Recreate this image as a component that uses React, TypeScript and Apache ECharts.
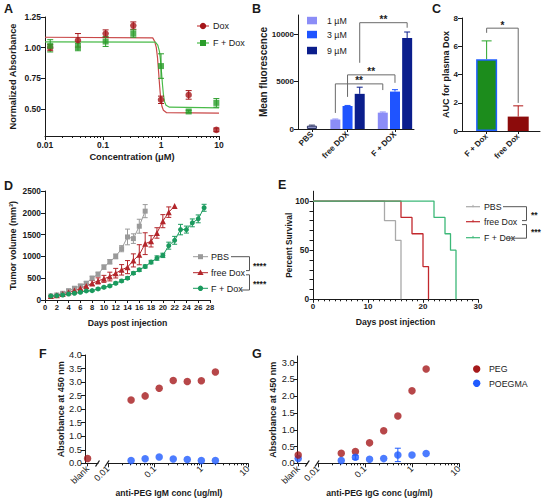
import React, { useEffect, useRef } from 'react';
import * as echarts from 'echarts';

// ===== Panel A: viability vs concentration =====
const concA = [0.0123, 0.037, 0.111, 0.333, 1, 3, 9];
const doxA = [1.0, 1.06, 1.115, 1.18, 0.575, 0.615, 0.33];
const doxAErr = [0.025, 0.055, 0.03, 0.03, 0.03, 0.035, 0.015];
const fDoxA = [1.015, 1.005, 1.05, 1.115, 0.85, 0.48, 0.55];
const fDoxAErr = [0.05, 0.03, 0.04, 0.03, 0.1, 0.01, 0.035];
const doxFitConc = [0.01, 0.72, 0.78, 0.83, 0.87, 0.91, 0.95, 0.99, 1.04, 1.1, 1.25, 10];
const doxFitVal = [1.085, 1.08, 1.05, 1.0, 0.92, 0.8, 0.68, 0.58, 0.52, 0.49, 0.47, 0.467];
const fDoxFitConc = [0.01, 0.8, 0.88, 0.94, 0.98, 1.02, 1.06, 1.1, 1.15, 1.22, 1.4, 10];
const fDoxFitVal = [1.047, 1.045, 1.02, 0.97, 0.9, 0.8, 0.7, 0.62, 0.56, 0.53, 0.515, 0.51];
const tickAX = [0.01, 0.1, 1, 10];
const tickAXLabels = ['0.01', '0.1', '1', '10'];
const tickAY = [0.5, 0.75, 1.0, 1.25];
const logMinorTicks = [0.02, 0.03, 0.04, 0.05, 0.06, 0.07, 0.08, 0.09, 0.2, 0.3, 0.4, 0.5, 0.6, 0.7, 0.8, 0.9, 2, 3, 4, 5, 6, 7, 8, 9];

// ===== Panel B: uptake =====
const groupsB = ['PBS', 'free DOX', 'F + DOX'];
const dosesB = ['1 µM', '3 µM', '9 µM'];
const pbsB = 350;
const pbsBErr = 60;
const freeDoxB = [1000, 2420, 3700];
const freeDoxBErr = [50, 60, 700];
const fDoxB = [1720, 3940, 9580];
const fDoxBErr = [70, 200, 630];
const sigBFromGroup = [1, 1, 1];
const sigBToGroup = [2, 2, 2];
const sigBDose = [0, 1, 2];
const sigBTop = [4750, 5700, 11190];
const sigBLegL = [1690, 3380, 6970];
const sigBLegR = [4100, 4860, 10660];
const sigBText = ['**', '**', '**'];
const tickBY = [0, 5000, 10000];

// ===== Panel C: AUC =====
const groupsC = ['F + Dox', 'free Dox'];
const aucC = [5.08, 1.02];
const aucCErr = [1.3, 0.76];
const sigCTop = [7.28];
const sigCLegL = [6.95];
const sigCLegR = [1.99];
const sigCText = ['*'];

// ===== Panel D: tumour growth =====
const daysPBS = [1, 2, 3, 4, 5, 6, 7, 8, 9, 10, 11, 12, 13, 14, 15, 16, 17];
const volPBS = [92, 115, 154, 215, 270, 323, 385, 500, 592, 754, 877, 1000, 1177, 1446, 1408, 1692, 2038];
const errPBS = [10, 15, 20, 25, 30, 35, 40, 45, 45, 50, 50, 55, 70, 180, 110, 160, 150];
const daysFree = [1, 2, 3, 4, 5, 6, 7, 8, 9, 10, 11, 12, 13, 14, 15, 16, 17, 18, 19, 20, 21, 22];
const volFree = [90, 110, 140, 180, 220, 270, 323, 385, 438, 485, 538, 615, 692, 754, 908, 1038, 1292, 1346, 1538, 1808, 2015, 2154];
const errFree = [10, 15, 15, 20, 30, 40, 50, 60, 70, 80, 100, 110, 120, 150, 150, 230, 250, 130, 120, 150, 120, 0];
const daysF = [1, 2, 3, 4, 5, 6, 7, 8, 9, 10, 11, 12, 13, 14, 15, 16, 17, 18, 19, 20, 21, 22, 23, 24, 25, 26, 27];
const volF = [92, 100, 115, 138, 154, 177, 208, 215, 254, 292, 323, 385, 438, 500, 615, 692, 769, 869, 962, 1023, 1246, 1369, 1615, 1615, 1769, 1861, 2115];
const errF = [10, 10, 10, 15, 15, 15, 15, 15, 20, 20, 20, 25, 25, 30, 30, 35, 35, 40, 50, 50, 80, 90, 120, 80, 90, 90, 80];

// ===== Panel E: survival =====
const survDaysPBS = [0, 13, 15, 16];
const survPBS = [100, 80, 60, 0];
const survDaysFree = [0, 16, 18, 20, 21];
const survFree = [100, 83.3, 66.7, 33.3, 0];
const survDaysF = [0, 22, 24, 25, 26];
const survF = [100, 83.3, 66.7, 50, 0];

// ===== Panels F & G: anti-PEG ELISA =====
const concFG = [0.03125, 0.0625, 0.125, 0.25, 0.5, 1, 2];
const tickFGX = [0.01, 0.1, 1, 10];
const tickFGXLabels = ['0.01', '0.1', '1', '10'];
const pegIgMBlank = 0.18;
const pegIgM = [2.34, 2.49, 2.77, 3.06, 3.02, 3.05, 3.37];
const poegmaIgM = [0.1, 0.17, 0.23, 0.16, 0.14, 0.1, 0.1];
const pegIgGBlank = 0.25;
const poegmaIgGBlank = 0.14;
const pegIgG = [0.3, 0.35, 0.61, 0.97, 1.41, 2.16, 2.81];
const poegmaIgG = [0.08, 0.18, 0.12, 0.14, 0.25, 0.25, 0.29];
const poegmaIgGErr = [0, 0.06, 0, 0, 0.2, 0, 0];
const tickGY = [0, 0.5, 1, 1.5, 2, 2.5, 3];

// ===== styling =====
const FONT = 'Liberation Sans, Arial, Helvetica, sans-serif';
const INK = '#1a1a1a';
const RED_A = '#a5161a';
const GREEN_A = '#2a9d2a';
const BLUES = ['#8b8df7', '#1f54ff', '#0b1e8c'];
const PBS_BAR = '#8d93c4';
const GREY_D = '#9a9a9a';
const RED_D = '#b3262b';
const GREEN_D = '#1b9a5e';
const GREY_E = '#a9a9a9';
const RED_E = '#c2282d';
const GREEN_E = '#3cb878';
const PEG = '#a5191b';
const POEGMA = '#1f5bff';

// layout of bar slots in panel B (axis units)
const slotB = [1.2, 4.27, 8.36];
const stepB = 1.05;
const barXB = (g: number, d: number) => (g === 0 ? slotB[0] : slotB[g] + (d - 1) * stepB);

const axLine = (show = true) => ({ show, onZero: false, lineStyle: { color: INK, width: 1 } });
const tick = (len = 3, extra: any = {}) => ({ show: true, length: len, lineStyle: { color: INK, width: 1 }, ...extra });
const lbl = (size: number, bold = true, extra: any = {}) => ({
  color: INK, fontSize: size, fontWeight: bold ? 'bold' : 'normal', fontFamily: FONT, margin: 3, ...extra,
});
const nameStyle = (size: number, extra: any = {}) => ({ color: INK, fontSize: size, fontWeight: 'bold', fontFamily: FONT, ...extra });
const nearestLabel = (ticks: number[], labels: string[]) => (v: number) => {
  let best = 0;
  ticks.forEach((t, i) => {
    if (Math.abs(Math.log10(t) - Math.log10(v)) < Math.abs(Math.log10(ticks[best]) - Math.log10(v))) best = i;
  });
  return labels[best];
};

function errSeries(xi: number, yi: number, xs: number[], ys: number[], es: number[], color: string | string[], cap: number, twoSided: boolean) {
  const data: number[][] = [];
  xs.forEach((x, i) => {
    if (es[i] > 0) data.push([x, twoSided ? ys[i] - es[i] : ys[i], ys[i] + es[i], i]);
  });
  return {
    type: 'custom', xAxisIndex: xi, yAxisIndex: yi, silent: true, z: 2, clip: false,
    data, encode: { x: 0, y: [1, 2] },
    renderItem: (_p: any, api: any) => {
      const i = api.value(3);
      const c = Array.isArray(color) ? color[i] : color;
      const x = api.value(0);
      const lo = api.coord([x, api.value(1)]);
      const hi = api.coord([x, api.value(2)]);
      const st = { stroke: c, lineWidth: 1, fill: 'none' };
      const ch: any[] = [
        { type: 'line', shape: { x1: hi[0], y1: lo[1], x2: hi[0], y2: hi[1] }, style: st },
        { type: 'line', shape: { x1: hi[0] - cap, y1: hi[1], x2: hi[0] + cap, y2: hi[1] }, style: st },
      ];
      if (twoSided) ch.push({ type: 'line', shape: { x1: lo[0] - cap, y1: lo[1], x2: lo[0] + cap, y2: lo[1] }, style: st });
      return { type: 'group', children: ch };
    },
  };
}

function bracketSeries(xi: number, yi: number, x1: number[], x2: number[], top: number[], legL: number[], legR: number[], text: string[], fs: number) {
  return {
    type: 'custom', xAxisIndex: xi, yAxisIndex: yi, silent: true, z: 4, clip: false,
    data: x1.map((_, i) => [x1[i], x2[i], top[i], legL[i], legR[i], i]),
    encode: { x: [0, 1], y: [2, 3, 4] },
    renderItem: (_p: any, api: any) => {
      const a = api.coord([api.value(0), api.value(3)]);
      const b = api.coord([api.value(0), api.value(2)]);
      const c = api.coord([api.value(1), api.value(2)]);
      const d = api.coord([api.value(1), api.value(4)]);
      return {
        type: 'group',
        children: [
          { type: 'polyline', shape: { points: [a, b, c, d] }, style: { stroke: '#6a6a6a', lineWidth: 1, fill: 'none' } },
          {
            type: 'text', x: (b[0] + c[0]) / 2, y: b[1] + 2,
            style: {
              text: text[api.value(5)], fontSize: fs, fontWeight: 'bold', fontFamily: FONT, fill: INK,
              align: 'center', textAlign: 'center', verticalAlign: 'bottom', textVerticalAlign: 'bottom',
            },
          },
        ],
      };
    },
  };
}

const gtext = (x: number, y: number, text: string, size: number, bold = false, align = 'left') => ({
  type: 'text', x, y, silent: true, z: 10,
  style: {
    text, fontSize: size, fontWeight: bold ? 'bold' : 'normal', fontFamily: FONT, fill: INK,
    align, textAlign: align, verticalAlign: 'middle', textVerticalAlign: 'middle',
  },
});
const gline = (x1: number, y1: number, x2: number, y2: number, color: string, w = 1) => ({
  type: 'line', silent: true, z: 10, shape: { x1, y1, x2, y2 }, style: { stroke: color, lineWidth: w },
});
const gpoly = (pts: number[][], color: string, w = 1) => ({
  type: 'polyline', silent: true, z: 10, shape: { points: pts }, style: { stroke: color, lineWidth: w, fill: 'none' },
});

function buildOption() {
  const grids = [
    { left: 45, top: 17, width: 174, height: 119 }, // A
    { left: 298, top: 15, width: 116, height: 114 }, // B
    { left: 462, top: 18, width: 78, height: 113 }, // C
    { left: 45, top: 191, width: 165, height: 109 }, // D
    { left: 313, top: 191.2, width: 165, height: 108.1 }, // E
    { left: 85, top: 355, width: 13, height: 108.3 }, // F blank
    { left: 108, top: 355, width: 140, height: 108.3 }, // F log
    { left: 297.7, top: 356, width: 10, height: 107.3 }, // G blank
    { left: 318, top: 356, width: 141, height: 107.3 }, // G log
  ].map((g) => ({ ...g, containLabel: false, outerBoundsMode: 'none', show: false }));

  const xAxis: any[] = [
    // 0 A major
    {
      type: 'log', logBase: 10, gridIndex: 0, min: 0.01, max: 10, position: 'bottom',
      axisLine: axLine(), axisTick: tick(4, { customValues: tickAX }),
      axisLabel: lbl(8.5, true, { customValues: tickAX, formatter: nearestLabel(tickAX, tickAXLabels), margin: 4 }),
      splitLine: { show: false }, minorTick: { show: false },
      name: 'Concentration (μM)', nameLocation: 'middle', nameGap: 16, nameMoveOverlap: false,
      nameTextStyle: nameStyle(9.3),
    },
    // 1 A minor
    {
      type: 'log', logBase: 10, gridIndex: 0, min: 0.01, max: 10, position: 'bottom',
      axisLine: { show: false }, axisTick: tick(2, { customValues: logMinorTicks }),
      axisLabel: { show: false }, splitLine: { show: false },
    },
    // 2 B
    {
      type: 'value', gridIndex: 1, min: 0, max: 10, position: 'bottom',
      axisLine: axLine(), axisTick: tick(3, { customValues: slotB }),
      axisLabel: lbl(8, true, {
        customValues: slotB, rotate: 45, margin: 4,
        formatter: (v: number) => groupsB[slotB.findIndex((s) => Math.abs(s - v) < 0.01)],
      }),
      splitLine: { show: false },
    },
    // 3 C
    {
      type: 'value', gridIndex: 2, min: -0.78, max: 1.69, position: 'bottom',
      axisLine: axLine(), axisTick: tick(3, { customValues: [0, 1] }),
      axisLabel: lbl(8, true, { customValues: [0, 1], rotate: 45, margin: 4, formatter: (v: number) => groupsC[Math.round(v)] }),
      splitLine: { show: false },
    },
    // 4 D
    {
      type: 'value', gridIndex: 3, min: 0, max: 28, interval: 2, position: 'bottom',
      axisLine: axLine(), axisTick: tick(3), axisLabel: lbl(7.6, true, { margin: 3 }), splitLine: { show: false },
      name: 'Days post injection', nameLocation: 'middle', nameGap: 18, nameMoveOverlap: false, nameTextStyle: nameStyle(8.7),
    },
    // 5 E
    {
      type: 'value', gridIndex: 4, min: 0, max: 30, interval: 10, position: 'bottom',
      axisLine: axLine(), axisTick: tick(3.5), axisLabel: lbl(8, true, { margin: 3 }), splitLine: { show: false },
      minorTick: { show: true, splitNumber: 10, length: 2, lineStyle: { color: INK, width: 1 } },
      name: 'Days post injection', nameLocation: 'middle', nameGap: 18.5, nameMoveOverlap: false, nameTextStyle: nameStyle(8.7),
    },
    // 6 F blank
    {
      type: 'value', gridIndex: 5, min: 0, max: 1, position: 'bottom',
      axisLine: axLine(), axisTick: tick(3, { customValues: [0.2] }),
      axisLabel: lbl(9, false, { customValues: [0.2], rotate: 45, margin: 4, formatter: () => 'blank' }),
      splitLine: { show: false },
    },
    // 7 F log major
    {
      type: 'log', logBase: 10, gridIndex: 6, min: 0.01, max: 10, position: 'bottom',
      axisLine: axLine(), axisTick: tick(4, { customValues: tickFGX }),
      axisLabel: lbl(9, false, { customValues: tickFGX, rotate: 45, margin: 4, formatter: nearestLabel(tickFGX, tickFGXLabels) }),
      splitLine: { show: false },
      name: 'anti-PEG IgM conc (ug/ml)', nameLocation: 'middle', nameGap: 25, nameMoveOverlap: false,
      nameTextStyle: nameStyle(8.6, { padding: [0, 18, 0, 0] }),
    },
    // 8 F log minor
    {
      type: 'log', logBase: 10, gridIndex: 6, min: 0.01, max: 10, position: 'bottom',
      axisLine: { show: false }, axisTick: tick(2, { customValues: logMinorTicks }), axisLabel: { show: false }, splitLine: { show: false },
    },
    // 9 G blank
    {
      type: 'value', gridIndex: 7, min: 0, max: 1, position: 'bottom',
      axisLine: axLine(), axisTick: tick(3, { customValues: [0.05] }),
      axisLabel: lbl(9, false, { customValues: [0.05], rotate: 45, margin: 4, formatter: () => 'blank' }),
      splitLine: { show: false },
    },
    // 10 G log major
    {
      type: 'log', logBase: 10, gridIndex: 8, min: 0.01, max: 10, position: 'bottom',
      axisLine: axLine(), axisTick: tick(4, { customValues: tickFGX }),
      axisLabel: lbl(9, false, { customValues: tickFGX, rotate: 45, margin: 4, formatter: nearestLabel(tickFGX, tickFGXLabels) }),
      splitLine: { show: false },
      name: 'anti-PEG IgG conc (ug/ml)', nameLocation: 'middle', nameGap: 25, nameMoveOverlap: false,
      nameTextStyle: nameStyle(8.6, { padding: [0, 18, 0, 0] }),
    },
    // 11 G log minor
    {
      type: 'log', logBase: 10, gridIndex: 8, min: 0.01, max: 10, position: 'bottom',
      axisLine: { show: false }, axisTick: tick(2, { customValues: logMinorTicks }), axisLabel: { show: false }, splitLine: { show: false },
    },
  ];

  const yBase = (grid: number, extra: any) => ({
    type: 'value', gridIndex: grid, position: 'left', axisLine: axLine(), splitLine: { show: false },
    nameLocation: 'middle', nameRotate: 90, nameMoveOverlap: false, ...extra,
  });

  const yAxis: any[] = [
    yBase(0, {
      min: 0.28, max: 1.25, axisTick: tick(4, { customValues: tickAY }),
      axisLabel: lbl(8.5, true, { customValues: tickAY, formatter: (v: number) => v.toFixed(2), margin: 4 }),
      name: 'Normalized Absorbance', nameGap: 28, nameTextStyle: nameStyle(9.3),
    }),
    yBase(1, {
      min: 0, max: 12000, axisTick: tick(4, { customValues: tickBY }),
      axisLabel: lbl(8, true, { customValues: tickBY, margin: 4, formatter: (v: number) => String(Math.round(v)) }),
      name: 'Mean fluorescence', nameGap: 30, nameTextStyle: nameStyle(10),
    }),
    yBase(2, {
      min: 0, max: 8, interval: 2, axisTick: tick(4), axisLabel: lbl(8, true, { margin: 4 }),
      name: 'AUC for plasma Dox', nameGap: 12, nameTextStyle: nameStyle(9),
    }),
    yBase(3, {
      min: 0, max: 2500, interval: 500, axisTick: tick(4),
      axisLabel: lbl(8.3, true, { margin: 4, formatter: (v: number) => String(Math.round(v)) }),
      name: 'Tumor volume (mm³)', nameGap: 28, nameTextStyle: nameStyle(9),
    }),
    yBase(4, {
      min: 0, max: 110, axisTick: tick(3.5, { customValues: [0, 10, 20, 30, 40, 50, 60, 70, 80, 90, 100] }),
      axisLabel: lbl(8.3, true, { customValues: [0, 50, 100], margin: 4 }),
      name: 'Percent Survival', nameGap: 20, nameTextStyle: nameStyle(8.3),
    }),
    yBase(5, {
      min: 0, max: 4, interval: 0.5, axisTick: tick(4), axisLabel: lbl(9.3, false, { formatter: (v: number) => v.toFixed(1), margin: 3 }),
      name: 'Absorbance at 450 nm', nameGap: 20, nameTextStyle: nameStyle(9),
    }),
    yBase(6, { min: 0, max: 4, show: false }),
    yBase(7, {
      min: 0, max: 3.2, axisTick: tick(4, { customValues: tickGY }),
      axisLabel: lbl(9.3, false, { customValues: tickGY, formatter: (v: number) => v.toFixed(1), margin: 3 }),
      name: 'Absorbance at 450 nm', nameGap: 20, nameTextStyle: nameStyle(9),
    }),
    yBase(8, { min: 0, max: 3.2, show: false }),
  ];

  // Bars B
  const barsB: any[] = [
    { value: [barXB(0, 0), pbsB], itemStyle: { color: PBS_BAR, borderColor: '#2e3566', borderWidth: 1 } },
  ];
  const errBX: number[] = [barXB(0, 0)];
  const errBY: number[] = [pbsB];
  const errBE: number[] = [pbsBErr];
  const errBC: string[] = ['#2e3566'];
  [freeDoxB, fDoxB].forEach((vals, gi) => {
    const errs = gi === 0 ? freeDoxBErr : fDoxBErr;
    vals.forEach((v, d) => {
      const x = barXB(gi + 1, d);
      barsB.push({ value: [x, v], itemStyle: { color: BLUES[d] } });
      errBX.push(x); errBY.push(v); errBE.push(errs[d]); errBC.push(BLUES[d]);
    });
  });

  const series: any[] = [
    // ---- A ----
    { type: 'line', xAxisIndex: 0, yAxisIndex: 0, data: doxFitConc.map((c, i) => [c, doxFitVal[i]]), showSymbol: false, symbol: 'none', lineStyle: { color: '#c94848', width: 1.2 }, z: 1, silent: true },
    { type: 'line', xAxisIndex: 0, yAxisIndex: 0, data: fDoxFitConc.map((c, i) => [c, fDoxFitVal[i]]), showSymbol: false, symbol: 'none', lineStyle: { color: '#49bb49', width: 1.2 }, z: 1, silent: true },
    errSeries(0, 0, concA, doxA, doxAErr, RED_A, 3, true),
    errSeries(0, 0, concA, fDoxA, fDoxAErr, GREEN_A, 3, true),
    { type: 'scatter', name: 'Dox', xAxisIndex: 0, yAxisIndex: 0, data: concA.map((c, i) => [c, doxA[i]]), symbol: 'circle', symbolSize: 6.5, itemStyle: { color: RED_A }, z: 3 },
    { type: 'scatter', name: 'F + Dox', xAxisIndex: 0, yAxisIndex: 0, data: concA.map((c, i) => [c, fDoxA[i]]), symbol: 'rect', symbolSize: 6, itemStyle: { color: GREEN_A }, z: 3 },
    // ---- B ----
    { type: 'bar', xAxisIndex: 2, yAxisIndex: 1, data: barsB, barWidth: 10, z: 2 },
    errSeries(2, 1, errBX, errBY, errBE, errBC, 3, false),
    bracketSeries(2, 1,
      sigBFromGroup.map((g, i) => barXB(g, sigBDose[i])),
      sigBToGroup.map((g, i) => barXB(g, sigBDose[i])),
      sigBTop, sigBLegL, sigBLegR, sigBText, 10),
    // ---- C ----
    {
      type: 'bar', xAxisIndex: 3, yAxisIndex: 2, barWidth: 21, z: 2,
      data: [
        { value: [0, aucC[0]], itemStyle: { color: '#1c8c1c', borderColor: '#1f5fff', borderWidth: 1.5 } },
        { value: [1, aucC[1]], itemStyle: { color: '#8c0b0b' } },
      ],
    },
    errSeries(3, 2, [0, 1], aucC, aucCErr, ['#2aa52a', '#b01515'], 5, false),
    bracketSeries(3, 2, [0], [1], sigCTop, sigCLegL, sigCLegR, sigCText, 10),
    // ---- D ----
    { type: 'line', xAxisIndex: 4, yAxisIndex: 3, data: daysPBS.map((d, i) => [d, volPBS[i]]), symbol: 'rect', symbolSize: 5, lineStyle: { color: GREY_D, width: 1 }, itemStyle: { color: GREY_D }, z: 3 },
    { type: 'line', xAxisIndex: 4, yAxisIndex: 3, data: daysFree.map((d, i) => [d, volFree[i]]), symbol: 'triangle', symbolSize: 6, lineStyle: { color: RED_D, width: 1 }, itemStyle: { color: RED_D }, z: 3 },
    { type: 'line', xAxisIndex: 4, yAxisIndex: 3, data: daysF.map((d, i) => [d, volF[i]]), symbol: 'circle', symbolSize: 5, lineStyle: { color: GREEN_D, width: 1 }, itemStyle: { color: GREEN_D }, z: 3 },
    errSeries(4, 3, daysPBS, volPBS, errPBS, GREY_D, 2.5, true),
    errSeries(4, 3, daysFree, volFree, errFree, RED_D, 2.5, true),
    errSeries(4, 3, daysF, volF, errF, GREEN_D, 2.5, true),
    // ---- E ----
    { type: 'line', xAxisIndex: 5, yAxisIndex: 4, step: 'end', data: survDaysPBS.map((d, i) => [d, survPBS[i]]), showSymbol: false, symbol: 'none', lineStyle: { color: GREY_E, width: 1.3 }, z: 2 },
    { type: 'line', xAxisIndex: 5, yAxisIndex: 4, step: 'end', data: survDaysFree.map((d, i) => [d, survFree[i]]), showSymbol: false, symbol: 'none', lineStyle: { color: RED_E, width: 1.3 }, z: 3 },
    { type: 'line', xAxisIndex: 5, yAxisIndex: 4, step: 'end', data: survDaysF.map((d, i) => [d, survF[i]]), showSymbol: false, symbol: 'none', lineStyle: { color: GREEN_E, width: 1.3 }, z: 4 },
    // ---- F ----
    { type: 'scatter', xAxisIndex: 6, yAxisIndex: 5, data: [[0.2, pegIgMBlank]], symbolSize: 7.5, itemStyle: { color: PEG }, z: 5, clip: false },
    { type: 'scatter', xAxisIndex: 7, yAxisIndex: 6, data: concFG.map((c, i) => [c, pegIgM[i]]), symbolSize: 7.5, itemStyle: { color: PEG }, z: 3 },
    { type: 'scatter', xAxisIndex: 7, yAxisIndex: 6, data: concFG.map((c, i) => [c, poegmaIgM[i]]), symbolSize: 7.5, itemStyle: { color: POEGMA }, z: 3 },
    // ---- G ----
    { type: 'scatter', xAxisIndex: 9, yAxisIndex: 7, data: [[0.05, poegmaIgGBlank]], symbolSize: 7.5, itemStyle: { color: POEGMA }, z: 4, clip: false },
    { type: 'scatter', xAxisIndex: 9, yAxisIndex: 7, data: [[0.05, pegIgGBlank]], symbolSize: 7.5, itemStyle: { color: PEG }, z: 5, clip: false },
    { type: 'scatter', xAxisIndex: 10, yAxisIndex: 8, data: concFG.map((c, i) => [c, pegIgG[i]]), symbolSize: 7.5, itemStyle: { color: PEG }, z: 3 },
    { type: 'scatter', xAxisIndex: 10, yAxisIndex: 8, data: concFG.map((c, i) => [c, poegmaIgG[i]]), symbolSize: 7.5, itemStyle: { color: POEGMA }, z: 3 },
    errSeries(10, 8, concFG, poegmaIgG, poegmaIgGErr, POEGMA, 3, true),
  ];

  const graphic: any[] = [
    // panel letters
    gtext(4, 9, 'A', 12.5, true), gtext(252, 9, 'B', 12.5, true), gtext(432, 9, 'C', 12.5, true),
    gtext(4, 186, 'D', 12.5, true), gtext(278, 185, 'E', 12.5, true),
    gtext(39, 354, 'F', 12.5, true), gtext(252, 354, 'G', 12.5, true),
    // A legend
    gline(197, 26, 209, 26, '#c94848', 1.2),
    { type: 'circle', silent: true, z: 10, shape: { cx: 203, cy: 26, r: 3.2 }, style: { fill: RED_A } },
    gtext(213, 26, 'Dox', 9),
    gline(197, 43, 209, 43, '#49bb49', 1.2),
    { type: 'rect', silent: true, z: 10, shape: { x: 200, y: 40, width: 6, height: 6 }, style: { fill: GREEN_A } },
    gtext(213, 43, 'F + Dox', 9),
    // B legend
    ...dosesB.flatMap((d, i) => [
      { type: 'rect', silent: true, z: 10, shape: { x: 307, y: [16.8, 30.8, 46.8][i], width: 10, height: 7.5 }, style: { fill: BLUES[i] } },
      gtext(327, [20.5, 34.5, 50.5][i], d, 8.8),
    ]),
    // D legend
    gline(193, 256.7, 208, 256.7, GREY_D),
    { type: 'rect', silent: true, z: 10, shape: { x: 198, y: 254.2, width: 5, height: 5 }, style: { fill: GREY_D } },
    gtext(211, 257, 'PBS', 9),
    gline(193, 272.7, 208, 272.7, RED_D),
    { type: 'polygon', silent: true, z: 10, shape: { points: [[200.5, 269.6], [203.6, 275], [197.4, 275]] }, style: { fill: RED_D } },
    gtext(211, 273, 'free Dox', 9),
    gline(193, 288.3, 208, 288.3, GREEN_D),
    { type: 'circle', silent: true, z: 10, shape: { cx: 200.5, cy: 288.3, r: 2.7 }, style: { fill: GREEN_D } },
    gtext(211, 288.6, 'F + Dox', 9),
    gpoly([[231, 256.7], [249.5, 256.7], [249.5, 270.6], [246, 270.6]], '#555'),
    gpoly([[246, 274.8], [249.5, 274.8], [249.5, 290], [241, 290]], '#555'),
    gtext(253, 265.5, '****', 8.5, true),
    gtext(253, 284, '****', 8.5, true),
    // E legend
    ...[['PBS', GREY_E, 206.7], ['free Dox', RED_E, 221.7], ['F + Dox', GREEN_E, 237.7]].flatMap(([t, c, y]: any) => [
      gline(466, y, 480, y, c, 1.2),
      gline(473, y - 1.8, 473, y + 0.5, c, 1),
      gtext(484, y + 0.3, t, 8.8),
    ]),
    gpoly([[503, 206.7], [526.5, 206.7], [526.5, 220.6], [522, 220.6]], '#555'),
    gpoly([[522, 224.6], [526.5, 224.6], [526.5, 238.2], [506, 238.2]], '#555'),
    gtext(531, 214.5, '**', 8.5, true),
    gtext(531, 232, '***', 8.5, true),
    // G legend
    { type: 'circle', silent: true, z: 10, shape: { cx: 476.7, cy: 369, r: 3.7 }, style: { fill: PEG } },
    gtext(489, 369, 'PEG', 8.8),
    { type: 'circle', silent: true, z: 10, shape: { cx: 476.7, cy: 383.3, r: 3.7 }, style: { fill: POEGMA } },
    gtext(489, 383.5, 'POEGMA', 8.8),
    // axis breaks F / G
    gline(95.5, 466.5, 99.5, 460.5, INK, 1.3),
    gline(105, 466.5, 109, 460.5, INK, 1.3),
    gline(305.3, 466.5, 309.3, 460.5, INK, 1.3),
    gline(315, 466.5, 319, 460.5, INK, 1.3),
  ];

  return {
    animation: false,
    backgroundColor: '#ffffff',
    textStyle: { fontFamily: FONT },
    grid: grids,
    xAxis,
    yAxis,
    series,
    graphic,
  };
}

export default function App() {
  const ref = useRef<HTMLDivElement>(null);
  useEffect(() => {
    const chart = echarts.init(ref.current as HTMLDivElement, null, { renderer: 'svg' });
    chart.setOption(buildOption() as any);
    return () => chart.dispose();
  }, []);
  return (
    <div
      ref={ref}
      style={{ position: 'absolute', left: 0, top: 0, width: 546, height: 501, background: '#ffffff' }}
    />
  );
}
